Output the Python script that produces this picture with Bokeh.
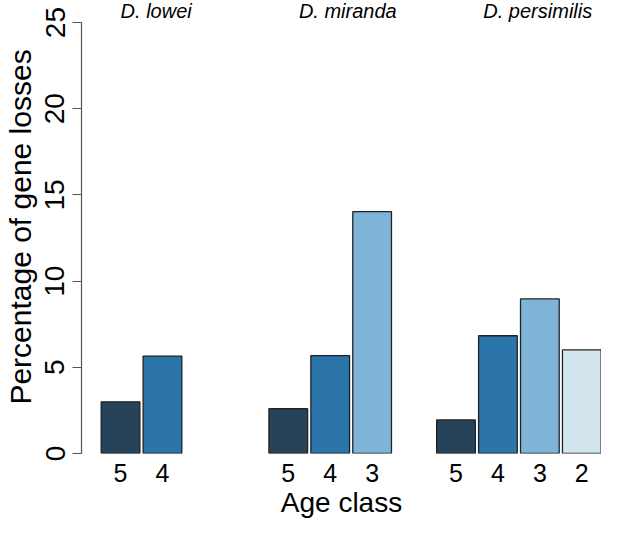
from bokeh.plotting import figure
from bokeh.models import ColumnDataSource, FixedTicker, Range1d
from bokeh.core.properties import value
from bokeh.embed import file_html
from bokeh.resources import INLINE

# Data
species = ["D. lowei", "D. miranda", "D. persimilis"]
age_classes = ["5", "4", "3", "2"]
lowei = [3.0, 5.65, None, None]
miranda = [2.6, 5.68, 14.03, None]
persimilis = [1.95, 6.83, 8.97, 6.01]
age_colors = ["#27435A", "#2B75AA", "#7EB4D8", "#D3E5EC"]
title_x = [0.85, 5.42, 9.95]
y_ticks = [0, 5, 10, 15, 20, 25]

FONT = "Liberation Sans"

xs, tops, cols, labels = [], [], [], []
for g, vals in enumerate([lowei, miranda, persimilis]):
    for k, v in enumerate(vals):
        if v is None:
            continue
        xs.append(g * 4 + k)
        tops.append(v)
        cols.append(age_colors[k])
        labels.append(age_classes[k])

src = ColumnDataSource(dict(x=xs, top=tops, color=cols))

p = figure(width=601, height=520, output_backend="svg", toolbar_location=None,
           x_range=Range1d(-0.931, 11.47), y_range=Range1d(0, 26.28),
           min_border_left=72, min_border_right=0, min_border_top=0, min_border_bottom=0)
p.outline_line_color = None
p.grid.visible = False
p.background_fill_color = "white"

p.vbar(x="x", top="top", bottom=0, width=0.923, fill_color="color",
       line_color="#222222", line_width=1.3, source=src)

# species titles
p.text(x=title_x, y=[25.66] * 3, text=species, text_font=value(FONT),
       text_font_style="italic", text_font_size="20px", text_align="center",
       text_baseline="middle", text_color="#000000")

# y axis
ya = p.yaxis[0]
ya.bounds = (0, 25)
ya.ticker = FixedTicker(ticks=y_ticks)
ya.axis_label = "Percentage of gene losses"
ya.axis_label_text_font = FONT
ya.axis_label_text_font_size = "30px"
ya.axis_label_text_font_style = "normal"
ya.axis_label_text_color = "#000000"
ya.axis_label_standoff = 6
ya.major_label_text_font = FONT
ya.major_label_text_font_size = "28px"
ya.major_label_text_color = "#000000"
ya.major_label_orientation = "parallel"
ya.major_label_standoff = 8
ya.axis_line_color = "#555555"
ya.axis_line_width = 1.2
ya.major_tick_line_color = "#555555"
ya.major_tick_line_width = 1.2
ya.major_tick_out = 9
ya.major_tick_in = 0
ya.minor_tick_line_color = None

# x axis
xa = p.xaxis[0]
xa.ticker = FixedTicker(ticks=xs)
xa.major_label_overrides = {x: l for x, l in zip(xs, labels)}
xa.axis_line_color = None
xa.major_tick_line_color = None
xa.major_tick_out = 0
xa.major_tick_in = 0
xa.minor_tick_line_color = None
xa.minor_tick_out = 0
xa.major_label_text_font = FONT
xa.major_label_text_font_size = "25px"
xa.major_label_text_color = "#000000"
xa.major_label_standoff = 10
xa.axis_label = "Age class"
xa.axis_label_text_font = FONT
xa.axis_label_text_font_size = "28px"
xa.axis_label_text_font_style = "normal"
xa.axis_label_text_color = "#000000"
xa.axis_label_standoff = 2

open("out.html", "w").write(file_html(p, INLINE))
